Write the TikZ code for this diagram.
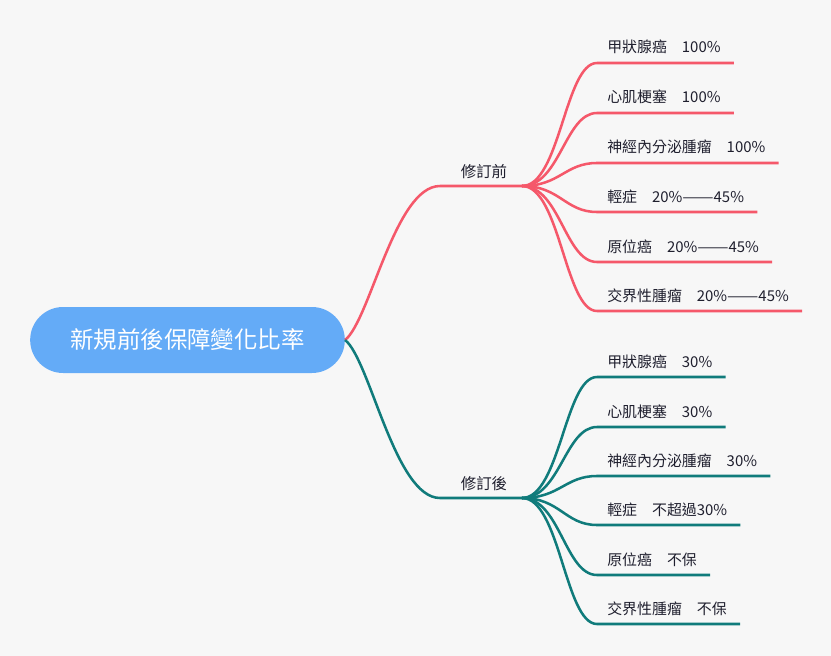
\documentclass[tikz,border=0pt]{standalone}
\usepackage{fontspec}
\newfontfamily\cjk{Noto Sans CJK TC}
\usepackage{graphicx}
\usepackage{tikz}
\usetikzlibrary{calc}

\definecolor{bgcol}{HTML}{F7F7F7}
\definecolor{rootcol}{HTML}{64ABF7}
\definecolor{precol}{HTML}{F5586A}
\definecolor{postcol}{HTML}{107B7B}
\definecolor{txtcol}{HTML}{1F1F2E}

\newcommand{\longdash}{\scalebox{1.25}[1]{——}}

\tikzset{
    rootbox/.style={rectangle, fill=rootcol, text=white, font=\cjk\fontsize{17.6}{20}\selectfont,
        minimum width=236pt, minimum height=49.5pt, rounded corners=24.7pt, inner sep=0pt},
    branchtext/.style={anchor=base, text=txtcol, font=\cjk\fontsize{11.6}{14}\selectfont, inner sep=0pt},
    leaftext/.style={anchor=base west, text=txtcol, font=\cjk\fontsize{11.2}{14}\selectfont, inner sep=0pt},
    preline/.style={draw=precol, line width=1.9pt},
    postline/.style={draw=postcol, line width=1.9pt}
}

\begin{document}
\begin{tikzpicture}[x=0.75pt, y=-0.75pt]
    \fill[bgcol] (0,0) rectangle (831,656);
    \useasboundingbox (0,0) rectangle (831,656);

    \node[rootbox] (root) at (187.5,340) {新規前後保障變化比率};

    % 修訂前
    \coordinate (preL) at (440,186);
    \coordinate (preR) at (522,186);
    \node[branchtext] (pre) at (484,177) {修訂前};
    \draw[preline] (root.east) .. controls +(25,-20) and +(-45,0) .. (preL) -- (preR);

    \coordinate (a1) at (597,63);
    \coordinate (a2) at (597,113);
    \coordinate (a3) at (597,163);
    \coordinate (a4) at (597,212);
    \coordinate (a5) at (597,262);
    \coordinate (a6) at (597,311);
    \node[leaftext] (a1t) at (607,53) {甲狀腺癌\quad 100\%};
    \node[leaftext] (a2t) at (607,103) {心肌梗塞\quad 100\%};
    \node[leaftext] (a3t) at (607,153) {神經內分泌腫瘤\quad 100\%};
    \node[leaftext] (a4t) at (607,202) {輕症\quad 20\%\longdash45\%};
    \node[leaftext] (a5t) at (607,252) {原位癌\quad 20\%\longdash45\%};
    \node[leaftext] (a6t) at (607,301) {交界性腫瘤\quad 20\%\longdash45\%};
    \draw[preline] (preR) .. controls +(38,0) and +(-32,0) .. (a1) -- ($(a1 -| a1t.east)+(13,0)$);
    \draw[preline] (preR) .. controls +(38,0) and +(-32,0) .. (a2) -- ($(a2 -| a2t.east)+(13,0)$);
    \draw[preline] (preR) .. controls +(38,0) and +(-32,0) .. (a3) -- ($(a3 -| a3t.east)+(13,0)$);
    \draw[preline] (preR) .. controls +(38,0) and +(-32,0) .. (a4) -- ($(a4 -| a4t.east)+(13,0)$);
    \draw[preline] (preR) .. controls +(38,0) and +(-32,0) .. (a5) -- ($(a5 -| a5t.east)+(13,0)$);
    \draw[preline] (preR) .. controls +(38,0) and +(-32,0) .. (a6) -- ($(a6 -| a6t.east)+(13,0)$);

    % 修訂後
    \coordinate (postL) at (440,498);
    \coordinate (postR) at (522,498);
    \node[branchtext] (post) at (484,489) {修訂後};
    \draw[postline] (root.east) .. controls +(25,20) and +(-45,0) .. (postL) -- (postR);

    \coordinate (b1) at (597,377);
    \coordinate (b2) at (597,427);
    \coordinate (b3) at (597,476);
    \coordinate (b4) at (597,525);
    \coordinate (b5) at (597,575);
    \coordinate (b6) at (597,624);
    \node[leaftext] (b1t) at (607,367) {甲狀腺癌\quad 30\%};
    \node[leaftext] (b2t) at (607,417) {心肌梗塞\quad 30\%};
    \node[leaftext] (b3t) at (607,466) {神經內分泌腫瘤\quad 30\%};
    \node[leaftext] (b4t) at (607,515) {輕症\quad 不超過30\%};
    \node[leaftext] (b5t) at (607,565) {原位癌\quad 不保};
    \node[leaftext] (b6t) at (607,614) {交界性腫瘤\quad 不保};
    \draw[postline] (postR) .. controls +(38,0) and +(-32,0) .. (b1) -- ($(b1 -| b1t.east)+(13,0)$);
    \draw[postline] (postR) .. controls +(38,0) and +(-32,0) .. (b2) -- ($(b2 -| b2t.east)+(13,0)$);
    \draw[postline] (postR) .. controls +(38,0) and +(-32,0) .. (b3) -- ($(b3 -| b3t.east)+(13,0)$);
    \draw[postline] (postR) .. controls +(38,0) and +(-32,0) .. (b4) -- ($(b4 -| b4t.east)+(13,0)$);
    \draw[postline] (postR) .. controls +(38,0) and +(-32,0) .. (b5) -- ($(b5 -| b5t.east)+(13,0)$);
    \draw[postline] (postR) .. controls +(38,0) and +(-32,0) .. (b6) -- ($(b6 -| b6t.east)+(13,0)$);
\end{tikzpicture}
\end{document}
